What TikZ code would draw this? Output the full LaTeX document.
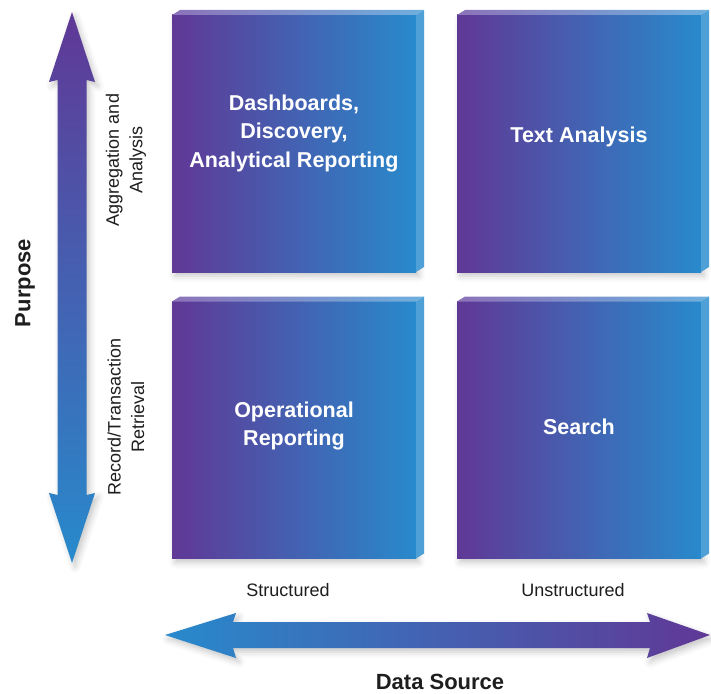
\documentclass[tikz,border=0pt]{standalone}
\usepackage{fontspec}
\setmainfont{Liberation Sans}
\usetikzlibrary{shadows.blur}
\definecolor{qpurple}{RGB}{96,56,150}
\definecolor{qblue}{RGB}{40,138,204}
\definecolor{qpurplelite}{RGB}{140,115,185}
\definecolor{qbluelite}{RGB}{110,175,222}
\definecolor{qside}{RGB}{78,160,214}
\definecolor{qtext}{RGB}{30,30,30}
\tikzset{
  qshadow/.style={blur shadow={shadow xshift=3pt, shadow yshift=-4pt, shadow blur radius=6pt, shadow opacity=22}},
  box/.style={minimum width=244pt, minimum height=257pt, inner sep=0pt, outer sep=0pt,
    left color=qpurple, right color=qblue, qshadow},
  boxtext/.style={text=white, align=center, font=\bfseries\fontsize{21.5}{28.5}\selectfont},
  sidelab/.style={text=qtext, align=center, rotate=90, font=\fontsize{18}{23.5}\selectfont},
  axislab/.style={text=qtext, font=\bfseries\fontsize{22}{26}\selectfont},
  endlab/.style={text=qtext, font=\fontsize{18}{22}\selectfont}
}
\begin{document}
\begin{tikzpicture}[x=1pt,y=-1pt]
\useasboundingbox (0,0) rectangle (711,693);
% boxes
\node[box] (tl) at (294,143.5) {};
\node[box] (tr) at (579,143.5) {};
\node[box] (bl) at (294,430) {};
\node[box] (br) at (579,430) {};
\foreach \n in {tl,tr,bl,br}{
  \shade[left color=qpurplelite, right color=qbluelite]
    (\n.north west) -- ++(8,-5) -- ([shift={(8,-5)}]\n.north east) -- (\n.north east) -- cycle;
  \fill[qside]
    (\n.north east) -- ++(8,-5) -- ([shift={(8,-5)}]\n.south east) -- (\n.south east) -- cycle;
}
% box texts
\node[boxtext] (tltext) at (294,133) {Dashboards,\\Discovery,\\Analytical Reporting};
\node[boxtext] (trtext) at (579,137) {Text Analysis};
\node[boxtext] (bltext) at (294,426) {Operational\\Reporting};
\node[boxtext] (brtext) at (579,427) {Search};
% vertical arrow
\shade[top color=qpurple, bottom color=qblue, qshadow]
  (72,12) -- (95,82) -- (86.5,80) -- (86.5,495) -- (95,493) -- (72,563)
  -- (49,493) -- (57.5,495) -- (57.5,80) -- (49,82) -- cycle;
% horizontal arrow
\shade[left color=qblue, right color=qpurple, qshadow]
  (165,635) -- (236,613) -- (233,622) -- (650,622) -- (647,613) -- (710,635)
  -- (647,658) -- (650,648) -- (233,648) -- (236,658) -- cycle;
% labels
\node[sidelab] (agg) at (126,160) {Aggregation and\\Analysis};
\node[sidelab] (rec) at (126,417) {Record/Transaction\\Retrieval};
\node[axislab, rotate=90] (purpose) at (25,283) {Purpose};
\node[endlab] (struct) at (288,590) {Structured};
\node[endlab] (unstruct) at (573,590) {Unstructured};
\node[axislab] (datasrc) at (440,682) {Data Source};
\end{tikzpicture}
\end{document}
